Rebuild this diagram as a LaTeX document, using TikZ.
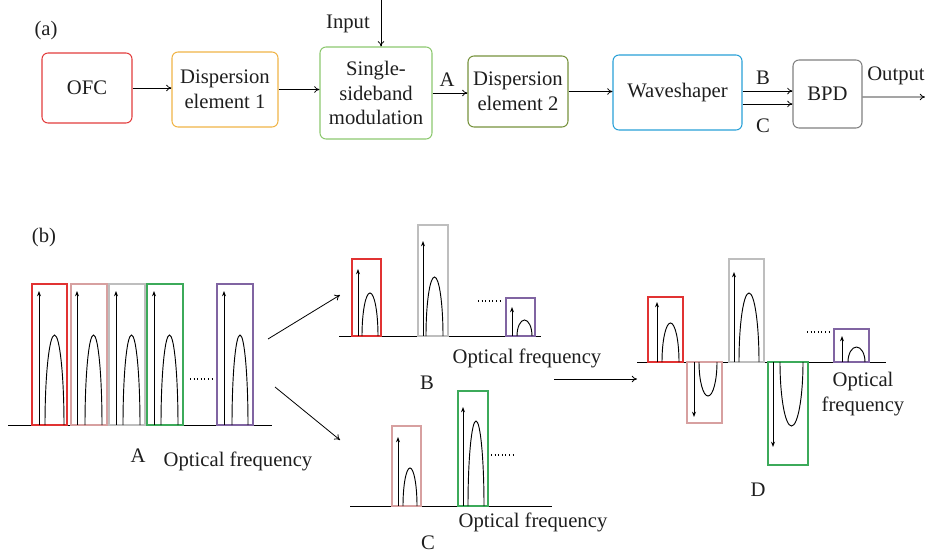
\documentclass[tikz,border=0pt]{standalone}
\usepackage{fontspec}
\setmainfont{Liberation Serif}
\usetikzlibrary{arrows.meta}
\definecolor{txt}{RGB}{30,30,30}
\definecolor{ofcred}{RGB}{226,60,60}
\definecolor{deorange}{RGB}{240,180,70}
\definecolor{ssbgreen}{RGB}{140,200,110}
\definecolor{detwo}{RGB}{118,146,60}
\definecolor{wsblue}{RGB}{40,160,215}
\definecolor{bpdgray}{RGB}{128,128,128}
\definecolor{sred}{RGB}{225,50,50}
\definecolor{spink}{RGB}{215,160,160}
\definecolor{sgray}{RGB}{190,190,190}
\definecolor{sgreen}{RGB}{60,170,90}
\definecolor{spurple}{RGB}{128,100,162}
\newcommand{\humpline}[4]{%
 \draw[spec] (#1,#3) .. controls (#1,{#3+0.552*(#4-#3)}) and ({(#1+#2)/2-0.552*(#2-#1)/2},#4) .. ({(#1+#2)/2},#4) .. controls ({(#1+#2)/2+0.552*(#2-#1)/2},#4) and (#2,{#3+0.552*(#4-#3)}) .. (#2,#3);}
\newcommand{\spikeline}[3]{\draw[spar] (#1,#2) -- (#1,#3);}
\begin{document}
\begin{tikzpicture}[x=0.75pt,y=-0.75pt,
  font=\rmfamily\fontsize{15.5}{18.5}\selectfont,
  blk/.style={draw,rounded corners=4.5pt,line width=0.8pt,align=center,text=txt,inner sep=1pt},
  conn/.style={-{To[length=4pt,width=5pt]},line width=0.6pt},
  spec/.style={line width=0.7pt},
  spar/.style={line width=0.7pt,-{Stealth[length=4pt,width=3pt]}},
  sbox/.style={line width=0.8pt},
  lbl/.style={text=txt,inner sep=0pt}]
\useasboundingbox (0,0) rectangle (925,553);
% ---------- (a)
\node[lbl] (la) at (46,31) {(a)};
\node[blk,draw=ofcred,minimum width=67.5pt,minimum height=52.5pt] (ofc) at (87,88) {OFC};
\node[blk,draw=deorange,minimum width=79.5pt,minimum height=56.25pt] (de1) at (225,89.5) {Dispersion\\element 1};
\node[blk,draw=ssbgreen,minimum width=84pt,minimum height=69pt] (ssb) at (376,93) {Single-\\sideband\\modulation};
\node[blk,draw=detwo,minimum width=75pt,minimum height=53.25pt] (de2) at (518,91.5) {Dispersion\\element 2};
\node[blk,draw=wsblue,minimum width=96.75pt,minimum height=56.25pt] (ws) at (677.5,92.5) {Waveshaper};
\node[blk,draw=bpdgray,minimum width=51.75pt,minimum height=51pt] (bpd) at (827.5,94) {BPD};
\coordinate (inp) at (381,0);
\coordinate (outp) at (925,97);
\node[lbl] (tinp) at (348,24) {Input};
\node[lbl] (tout) at (896,76) {Output};
\node[lbl] (tA) at (447,80) {A};
\node[lbl] (tB) at (763,78) {B};
\node[lbl] (tC) at (763,126) {C};
\draw[conn] (inp) -- (inp |- ssb.north);
\draw[conn] (ofc.east) -- (ofc.east -| de1.west);
\draw[conn] (de1.east) -- (de1.east -| ssb.west);
\draw[conn] (ssb.east) -- (ssb.east -| de2.west);
\draw[conn] (de2.east) -- (de2.east -| ws.west);
\draw[conn] ([yshift=1.1pt]ws.east) -- ([yshift=1.1pt]ws.east -| bpd.west);
\draw[conn] ([yshift=-8.6pt]ws.east) -- ([yshift=-8.6pt]ws.east -| bpd.west);
\draw[conn] ([yshift=-2.2pt]bpd.east) -- (outp);
% ---------- (b)
\node[lbl] (lb) at (44,238) {(b)};
% spectrum A
\draw[spec] (8,425) -- (272,425);
\draw[sbox,sred] (32,425) rectangle (67,284);
\draw[sbox,spink] (71,425) rectangle (107,284);
\draw[sbox,sgray] (109,425) rectangle (145,284);
\draw[sbox,sgreen] (147,425) rectangle (183,284);
\draw[sbox,spurple] (217,425) rectangle (253,284);
\spikeline{39}{425}{291}\humpline{45}{64}{425}{335}
\spikeline{77}{425}{291}\humpline{85}{102}{425}{335}
\spikeline{116}{425}{291}\humpline{123}{140}{425}{335}
\spikeline{154}{425}{291}\humpline{161}{178}{425}{335}
\spikeline{224}{425}{291}\humpline{232}{248}{425}{335}
\draw[spec,dotted,line width=1pt] (190,379) -- (212,379);
\node[lbl] (nA) at (138,456) {A};
\node[lbl] (fA) at (238,461) {Optical frequency};
% arrows to B, C
\coordinate (a1) at (268,339);
\coordinate (b1) at (340,295);
\coordinate (a2) at (275,387);
\coordinate (c1) at (340,440);
\draw[conn] (a1) -- (b1);
\draw[conn] (a2) -- (c1);
% spectrum B
\draw[spec] (339,336) -- (541,336);
\draw[sbox,sred] (352,336) rectangle (381,259);
\draw[sbox,sgray] (418,336) rectangle (448,225);
\draw[sbox,spurple] (506,336) rectangle (535,298);
\spikeline{358}{336}{269}\humpline{362}{378}{336}{293}
\spikeline{423}{336}{241}\humpline{426}{443}{336}{277}
\spikeline{512}{336}{307}\humpline{517}{532}{336}{320}
\draw[spec,dotted,line width=1pt] (478,301) -- (502,301);
\node[lbl] (fB) at (527,358) {Optical frequency};
\node[lbl] (nB) at (427,383) {B};
% spectrum C
\draw[spec] (350,506) -- (552,506);
\draw[sbox,spink] (392,506) rectangle (421,426);
\draw[sbox,sgreen] (458,506) rectangle (488,391);
\spikeline{398}{506}{437}\humpline{403}{417}{506}{468}
\spikeline{463}{506}{407}\humpline{468}{484}{506}{421}
\draw[spec,dotted,line width=1pt] (491,455) -- (514,455);
\node[lbl] (fC) at (533,522) {Optical frequency};
\node[lbl] (nC) at (428,543) {C};
% arrow to D
\coordinate (d0) at (554,379);
\coordinate (d1) at (637,379);
\draw[conn] (d0) -- (d1);
% spectrum D
\draw[spec] (637,362) -- (886,362);
\draw[sbox,sred] (648,362) rectangle (683,297);
\draw[sbox,spink] (687,362) rectangle (722,423);
\draw[sbox,sgray] (729,362) rectangle (764,259);
\draw[sbox,sgreen] (768,362) rectangle (808,465);
\draw[sbox,spurple] (834,362) rectangle (869,329);
\spikeline{657}{362}{302}\humpline{662}{679}{362}{323}
\spikeline{694}{362}{417}\humpline{699}{717}{362}{396}
\spikeline{734}{362}{272}\humpline{739}{759}{362}{293}
\spikeline{773}{362}{447}\humpline{780}{803}{362}{426}
\spikeline{842}{362}{336}\humpline{848}{865}{362}{347}
\draw[spec,dotted,line width=1pt] (807,332) -- (831,332);
\node[lbl,align=center] (fD) at (863,394) {Optical\\frequency};
\node[lbl] (nD) at (758,490) {D};
\end{tikzpicture}
\end{document}
